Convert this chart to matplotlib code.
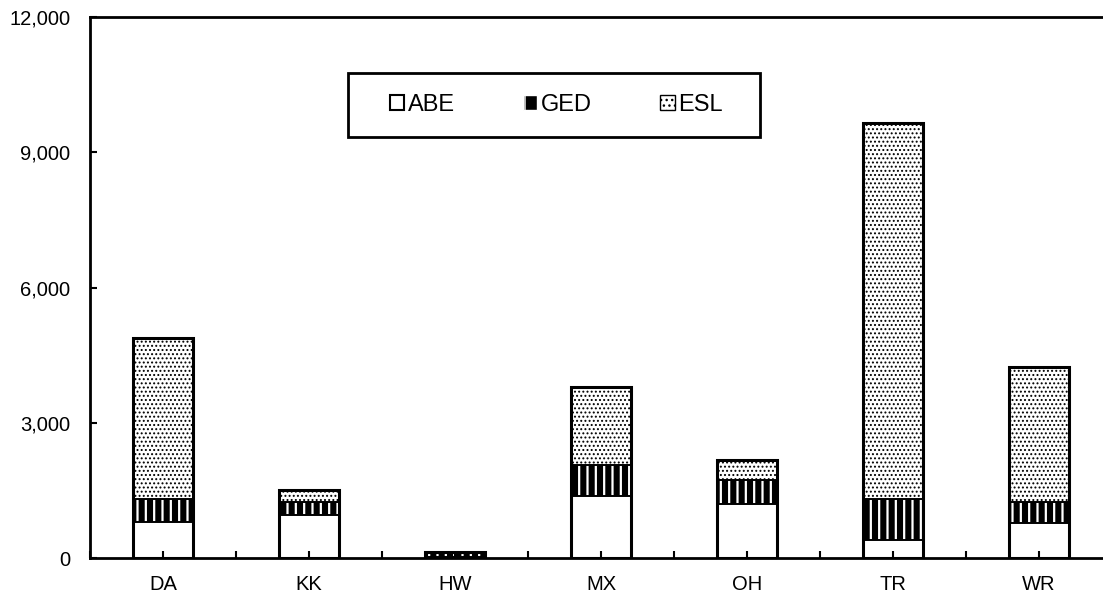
import numpy as np
import matplotlib.pyplot as plt
from matplotlib.patches import Patch, Rectangle
from matplotlib.ticker import FuncFormatter, MultipleLocator

plt.rcParams['font.family'] = ['Liberation Sans', 'DejaVu Sans']

# data
sites = ['DA', 'KK', 'HW', 'MX', 'OH', 'TR', 'WR']
abe = [800, 950, 20, 1380, 1200, 400, 780]
ged = [500, 290, 110, 690, 530, 900, 460]
esl = [3580, 270, 0, 1730, 450, 8350, 3000]

x = np.arange(len(sites))
abe = np.array(abe)
ged = np.array(ged)
esl = np.array(esl)
w = 0.41

fig = plt.figure(figsize=(11.03, 6), dpi=100)
ax = fig.add_axes([90 / 1103, 42 / 600, 1013 / 1103, 541 / 600])

# fills
ax.bar(x, abe, w, color='white', linewidth=0)
with plt.rc_context({'hatch.linewidth': 1.6}):
    ax.bar(x, ged, w, bottom=abe, color='black', edgecolor='white', hatch='||', linewidth=0)
    ged_h = Patch(facecolor='black', edgecolor='white', hatch='|', label='GED')
with plt.rc_context({'hatch.linewidth': 0.9}):
    ax.bar(x, esl, w, bottom=abe + ged, color='white', edgecolor='black', hatch='....', linewidth=0)
    esl_h = Patch(facecolor='white', edgecolor='black', hatch='...', label='ESL')

# outlines
ax.bar(x, abe, w, fill=False, edgecolor='black', linewidth=1.2)
ax.bar(x, ged, w, bottom=abe, fill=False, edgecolor='black', linewidth=1.2)
ax.bar(x, esl, w, bottom=abe + ged, fill=False, edgecolor='black', linewidth=1.2)
ax.bar(x, abe + ged + esl, w, fill=False, edgecolor='black', linewidth=2.2)

ax.set_xlim(-0.5, -0.5 + 1013 / 146)
ax.set_ylim(0, 12000)

ax.yaxis.set_major_locator(MultipleLocator(3000))
ax.yaxis.set_major_formatter(FuncFormatter(lambda v, p: f'{int(v):,}'))
ax.set_xticks(x)
ax.set_xticklabels(sites)
ax.xaxis.set_minor_locator(MultipleLocator(1, offset=0.5))
ax.tick_params(axis='both', direction='in', length=5, width=1.5, labelsize=14.5)
ax.tick_params(axis='x', which='minor', direction='in', length=5, width=1.5)
ax.tick_params(axis='x', pad=12)
ax.tick_params(axis='y', pad=14)

for s in ['left', 'bottom', 'top']:
    ax.spines[s].set_linewidth(2)
ax.spines['right'].set_visible(False)

# legend box drawn separately, entries placed inside it
ax.add_patch(Rectangle(((348 - 90) / 1013, (558 - 137) / 541), 412 / 1013, 64 / 541,
                       transform=ax.transAxes, facecolor='white', edgecolor='black',
                       linewidth=2, zorder=4))
handles = [
    Patch(facecolor='white', edgecolor='black', linewidth=1.5, label='ABE'),
    ged_h,
    esl_h,
]
leg = ax.legend(handles=handles, ncol=3, loc='center left',
                bbox_to_anchor=((390 - 90) / 1013, (558 - 105) / 541), fontsize=17,
                frameon=False, handlelength=0.6, handleheight=0.6, handletextpad=0.15,
                columnspacing=2.9, borderpad=0, borderaxespad=0)
leg.set_zorder(5)

fig.savefig('out.png', dpi=100)
